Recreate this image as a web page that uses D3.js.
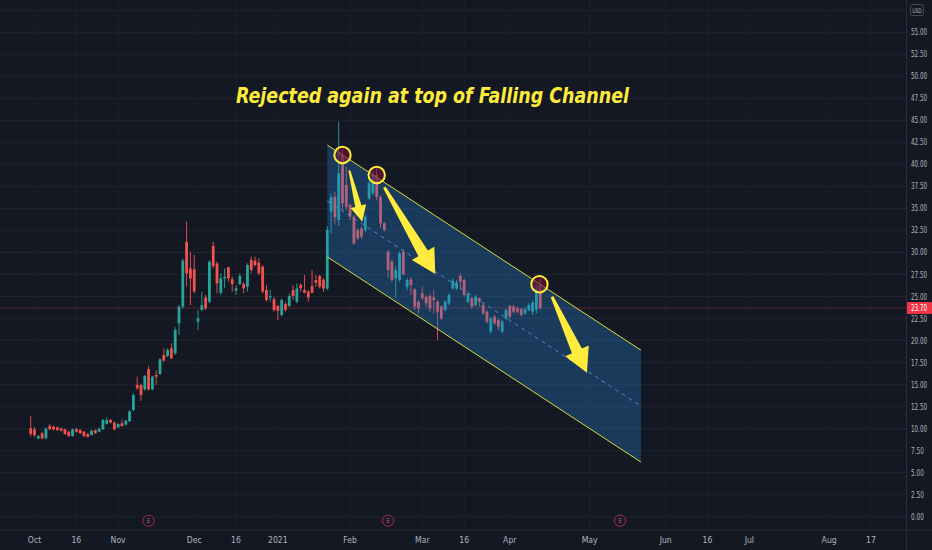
<!DOCTYPE html>
<html><head><meta charset="utf-8">
<script src="https://cdn.jsdelivr.net/npm/d3@7"></script>
<style>
html,body{margin:0;padding:0;background:#141823;overflow:hidden;}
svg{display:block;}
</style></head>
<body>
<svg id="chart" width="932" height="550"></svg>
<script>
// ---- data (daily candles, bar index 0 = 2020-09-30) ----
const opens = [10.03,9.92,8.90,9.47,8.90,10.30,10.22,10.15,10.03,9.92,9.65,9.16,9.96,9.84,9.65,9.39,9.28,9.84,9.65,9.92,
10.53,10.98,10.68,10.15,10.60,10.45,10.83,12.12,14.96,14.96,14.46,16.73,14.46,16.09,16.20,18.36,18.25,19.12,18.55,21.95,
23.84,31.22,28.20,28.08,22.14,23.47,24.90,24.41,30.73,28.76,25.43,27.06,28.31,26.95,25.66,26.42,26.42,26.11,29.14,29.07,
28.84,28.39,25.74,24.90,24.68,23.92,22.90,24.14,23.92,25.74,24.41,26.30,25.74,25.55,26.19,26.87,27.33,26.90,25.90,34.64,
36.30,33.69,41.07,37.66,35.39,34.06,32.55,32.74,32.55,36.15,36.72,38.80,36.30,33.31,30.09,28.96,27.07,26.88,30.09,26.10,
26.95,25.82,24.42,25.36,24.98,25.06,24.90,24.42,23.85,23.47,24.23,25.93,25.90,27.33,26.88,24.42,24.80,24.04,24.80,24.04,
23.28,21.01,22.71,22.33,21.01,22.52,23.92,23.85,23.66,23.55,23.09,23.47,23.28,23.50,26.30];
const highs = [11.43,10.15,9.28,9.65,10.15,10.53,10.35,10.25,10.10,10.00,9.75,10.00,10.05,9.95,9.75,9.50,9.85,9.90,10.10,11.10,
11.28,11.10,10.80,10.60,11.06,11.00,12.10,14.00,15.90,15.10,16.10,17.11,16.00,16.65,18.00,19.12,19.10,19.69,21.50,24.03,
29.33,33.50,30.09,29.71,23.47,25.55,25.17,29.14,31.22,28.95,27.63,28.20,28.39,27.25,26.30,27.63,26.68,28.76,29.52,29.52,
29.33,28.57,26.30,25.74,24.98,24.03,24.79,24.41,25.36,26.30,26.49,26.49,27.44,25.74,28.00,27.44,27.44,27.10,33.00,36.72,
36.90,44.85,41.70,39.75,35.60,34.25,32.74,33.00,34.30,38.10,39.20,39.60,36.50,33.50,30.28,29.20,28.40,30.10,30.28,27.10,
27.18,25.93,24.60,26.12,25.17,25.36,25.74,24.60,24.03,24.60,25.36,27.07,26.90,27.63,27.07,25.55,24.98,25.17,24.90,24.23,
23.47,22.71,22.90,22.52,22.33,23.66,24.04,24.04,23.85,23.70,23.75,24.23,24.53,26.31,27.00];
const lows = [9.09,9.09,8.79,8.79,8.79,9.84,9.80,9.75,9.70,9.30,9.05,9.10,9.55,9.40,9.05,8.95,9.20,9.40,9.60,9.85,
10.45,10.60,9.80,10.05,10.20,10.35,10.75,12.00,14.40,13.17,14.30,14.30,14.35,14.96,16.10,17.60,18.10,17.90,18.40,20.63,
23.60,26.11,24.03,25.36,21.19,23.40,23.47,24.22,28.20,25.36,25.17,25.93,26.68,25.55,25.17,26.30,25.36,25.55,27.63,28.39,
27.44,25.36,24.41,24.41,23.28,22.33,22.71,23.28,23.84,24.60,24.22,25.55,25.36,24.41,25.36,26.11,25.93,25.50,25.70,32.18,
33.20,33.00,34.80,34.80,33.70,30.85,31.40,31.50,32.30,35.90,36.50,35.90,32.80,32.40,27.07,26.60,24.80,26.70,27.45,25.74,
25.17,23.47,23.09,24.60,23.85,23.28,23.09,20.06,22.33,23.28,24.03,25.74,25.70,25.74,24.98,24.23,23.66,23.85,23.85,22.90,
21.96,20.82,21.77,21.20,20.82,22.33,22.52,23.09,23.09,22.70,22.90,23.28,22.90,23.09,23.50];
const closes = [9.39,9.24,9.16,8.90,9.99,9.92,9.92,9.84,9.77,9.39,9.16,9.92,9.65,9.47,9.16,9.09,9.77,9.47,9.99,10.98,
10.98,10.68,9.92,10.53,10.30,10.90,11.96,13.82,14.58,13.82,15.98,14.46,15.90,15.90,17.87,17.72,18.93,17.98,21.20,23.84,
29.07,27.63,27.06,25.55,22.52,24.03,23.65,28.95,28.46,26.49,27.06,27.25,27.06,26.42,25.93,27.33,25.93,28.57,28.01,28.57,
27.63,25.55,24.60,25.05,23.47,23.39,24.60,23.47,25.05,25.05,25.93,25.93,25.43,24.90,25.43,26.57,26.11,25.90,32.55,36.26,
34.00,38.99,35.58,35.20,34.06,31.04,31.61,31.80,34.06,37.85,38.80,36.30,33.31,32.55,28.01,26.88,28.01,29.90,27.50,26.88,
26.31,23.85,23.66,24.80,24.23,23.66,24.60,23.28,22.52,24.42,25.17,26.80,26.60,26.69,25.17,25.29,23.85,24.98,24.42,23.09,
22.15,22.52,21.96,21.58,22.15,23.47,22.71,23.28,23.28,22.90,23.55,24.04,24.30,25.90,23.70];

const priceTicks = [0,2.5,5,7.5,10,12.5,15,17.5,20,22.5,25,27.5,30,32.5,35,37.5,40,42.5,45,47.5,50,52.5,55];
const gridOnly = [57.5];
const timeLabels = ["Oct","16","Nov","Dec","16","2021","Feb","Mar","16","Apr","May","Jun","16","Jul","Aug","17"];
const timeBars   = [1,12,23,43,54,65,84,103,114,126,147,167,178,189,210,221];
const earningsBars = [31,94,155];
const lastPrice = 23.70;

// falling channel (bar index, price)
const channelBars  = [78, 160.5];
const channelUpper = [42.2, 18.9];
const channelLower = [29.5, 6.2];

// rejection circles
const circleBars   = [82, 91, 133.8];
const circlePrices = [41.07, 38.8, 26.4];

// arrows (tail -> tip)
const arrowFromBar   = [83.8, 93.0, 137.1];
const arrowFromPrice = [39.3, 37.4, 24.98];
const arrowToBar     = [87.2, 106.4, 146.3];
const arrowToPrice   = [33.5, 27.55, 16.35];
const arrowSize      = ["small","big","big"];

const title = "Rejected again at top of Falling Channel";

// ---- layout ----
const W = 932, H = 550;
const plotRight = 906.5, plotBottom = 530;
const x = d3.scaleLinear().domain([-8.08, 230.34]).range([0, plotRight]);
const y = d3.scaleLinear().domain([0, 55]).range([516.7, 32.3]);

const svg = d3.select("#chart");
svg.append("rect").attr("width", W).attr("height", H).attr("fill", "#141823");

const plot = svg.append("g");
plot.append("defs").append("clipPath").attr("id","clip")
  .append("rect").attr("x",0).attr("y",0).attr("width",plotRight).attr("height",plotBottom);

// grid
const grid = plot.append("g").attr("clip-path","url(#clip)");
grid.selectAll("line.h").data(priceTicks.concat(gridOnly)).enter().append("line")
  .attr("x1",0).attr("x2",plotRight).attr("y1",d=>y(d)).attr("y2",d=>y(d))
  .attr("stroke","#1f2430").attr("stroke-width",1);
grid.selectAll("line.v").data(timeBars).enter().append("line")
  .attr("y1",0).attr("y2",plotBottom).attr("x1",d=>x(d)).attr("x2",d=>x(d))
  .attr("stroke","#1c202b").attr("stroke-width",1);

// price line
plot.append("line").attr("x1",0).attr("x2",plotRight)
  .attr("y1",y(lastPrice)).attr("y2",y(lastPrice))
  .attr("stroke","#f23645").attr("stroke-opacity",0.4).attr("stroke-width",0.8);

// candles
const idx = d3.range(opens.length);
const cg = plot.append("g").attr("clip-path","url(#clip)");
const up = "#26a69a", dn = "#ef5350";
const bw = 2.8;
cg.selectAll("line.wick").data(idx).enter().append("line")
  .attr("x1",i=>x(i)).attr("x2",i=>x(i))
  .attr("y1",i=>y(highs[i])).attr("y2",i=>y(lows[i]))
  .attr("stroke",i=>closes[i]>=opens[i]?up:dn).attr("stroke-width",0.9);
cg.selectAll("rect.body").data(idx).enter().append("rect")
  .attr("x",i=>x(i)-bw/2).attr("width",bw)
  .attr("y",i=>y(Math.max(opens[i],closes[i])))
  .attr("height",i=>Math.max(1,Math.abs(y(opens[i])-y(closes[i]))))
  .attr("fill",i=>closes[i]>=opens[i]?up:dn);

// channel
const cx0 = x(channelBars[0]), cx1 = x(channelBars[1]);
const poly = [[cx0,y(channelUpper[0])],[cx1,y(channelUpper[1])],[cx1,y(channelLower[1])],[cx0,y(channelLower[0])]];
plot.append("polygon").attr("points",poly.map(p=>p.join(",")).join(" "))
  .attr("fill","rgba(41,130,210,0.32)");
plot.append("line").attr("x1",cx0).attr("x2",cx1)
  .attr("y1",y((channelUpper[0]+channelLower[0])/2)).attr("y2",y((channelUpper[1]+channelLower[1])/2))
  .attr("stroke","#5d95d0").attr("stroke-width",1).attr("stroke-dasharray","4,4").attr("opacity",0.85);
[channelUpper, channelLower].forEach(arr=>{
  plot.append("line").attr("x1",cx0).attr("x2",cx1)
    .attr("y1",y(arr[0])).attr("y2",y(arr[1]))
    .attr("stroke","#d6dc3a").attr("stroke-width",1);
});

// circles
plot.selectAll("circle.rej").data(circleBars).enter().append("circle")
  .attr("cx",(d)=>x(d)).attr("cy",(d,i)=>y(circlePrices[i])).attr("r",8.2)
  .attr("fill","rgba(110,18,55,0.6)").attr("stroke","#ffeb3b").attr("stroke-width",2);

// arrows
function arrowPts(tx,ty,px,py,hl,hh,st,sh){
  const dx=px-tx, dy=py-ty, L=Math.hypot(dx,dy), ux=dx/L, uy=dy/L, nx=-uy, ny=ux;
  const bx=px-ux*hl, by=py-uy*hl;
  return [[tx+nx*st,ty+ny*st],[bx+nx*sh,by+ny*sh],[bx+nx*hh,by+ny*hh],[px,py],
          [bx-nx*hh,by-ny*hh],[bx-nx*sh,by-ny*sh],[tx-nx*st,ty-ny*st]];
}
arrowFromBar.forEach((b,i)=>{
  const big = arrowSize[i]==="big";
  const pts = arrowPts(x(b),y(arrowFromPrice[i]),x(arrowToBar[i]),y(arrowToPrice[i]),
     big?24:16, big?13:8, big?1.4:1.0, big?5.5:3.2);
  plot.append("polygon").attr("points",pts.map(p=>p.join(",")).join(" ")).attr("fill","#ffeb3b");
});

// title
svg.append("text").attr("x",432.5).attr("y",103).attr("text-anchor","middle")
  .attr("font-family","'DejaVu Sans Condensed','DejaVu Sans',sans-serif")
  .attr("font-weight","bold").attr("font-style","italic").attr("font-size",22)
  .attr("textLength",393).attr("lengthAdjust","spacingAndGlyphs")
  .attr("fill","#ffeb3b").text(title);

// axes borders
svg.append("line").attr("x1",plotRight).attr("x2",plotRight).attr("y1",0).attr("y2",H)
  .attr("stroke","#2a2e39").attr("stroke-width",1);
svg.append("line").attr("x1",0).attr("x2",W).attr("y1",plotBottom).attr("y2",plotBottom)
  .attr("stroke","#23272f").attr("stroke-width",1);

const axFont = "'Liberation Sans Narrow','DejaVu Sans Condensed','Roboto',sans-serif";
const fmt = d3.format(".2f");
// price labels (narrow axis: squeeze to fit the 25px strip)
svg.selectAll("text.py").data(priceTicks).enter().append("text")
  .attr("x",911).attr("y",d=>y(d)+3).attr("font-family",axFont).attr("font-size",8.4)
  .attr("textLength",d=>fmt(d).length*3.2).attr("lengthAdjust","spacingAndGlyphs")
  .attr("fill","#b2b5be").text(d=>fmt(d));
// last price tag
svg.append("rect").attr("x",907).attr("y",y(lastPrice)-6).attr("width",25).attr("height",12)
  .attr("fill","#f23645").attr("rx",1);
svg.append("text").attr("x",911).attr("y",y(lastPrice)+3).attr("font-family",axFont)
  .attr("font-size",8.4).attr("textLength",fmt(lastPrice).length*3.2).attr("lengthAdjust","spacingAndGlyphs")
  .attr("fill","#ffffff").text(fmt(lastPrice));
// USD
svg.append("rect").attr("x",910.5).attr("y",4.5).attr("width",13).attr("height",11).attr("rx",2)
  .attr("fill","none").attr("stroke","#50535e").attr("stroke-width",0.8);
svg.append("text").attr("x",917).attr("y",12.5).attr("text-anchor","middle").attr("font-family",axFont)
  .attr("font-size",6.5).attr("textLength",9.6).attr("lengthAdjust","spacingAndGlyphs")
  .attr("fill","#b2b5be").text("USD");

// time labels
svg.selectAll("text.tx").data(timeBars).enter().append("text")
  .attr("x",d=>x(d)).attr("y",543).attr("text-anchor","middle")
  .attr("font-family",axFont).attr("font-size",8.6).attr("fill","#b2b5be")
  .text((d,i)=>timeLabels[i]);

// earnings markers
const eg = svg.selectAll("g.e").data(earningsBars).enter().append("g")
  .attr("transform",d=>`translate(${x(d)},520.7)`);
eg.append("circle").attr("r",5.6).attr("fill","#141823").attr("stroke","#a3285f").attr("stroke-width",1);
eg.append("text").attr("y",2.3).attr("text-anchor","middle").attr("font-family",axFont)
  .attr("font-size",6.5).attr("fill","#c0507f").text("E");
</script>
</body></html>
